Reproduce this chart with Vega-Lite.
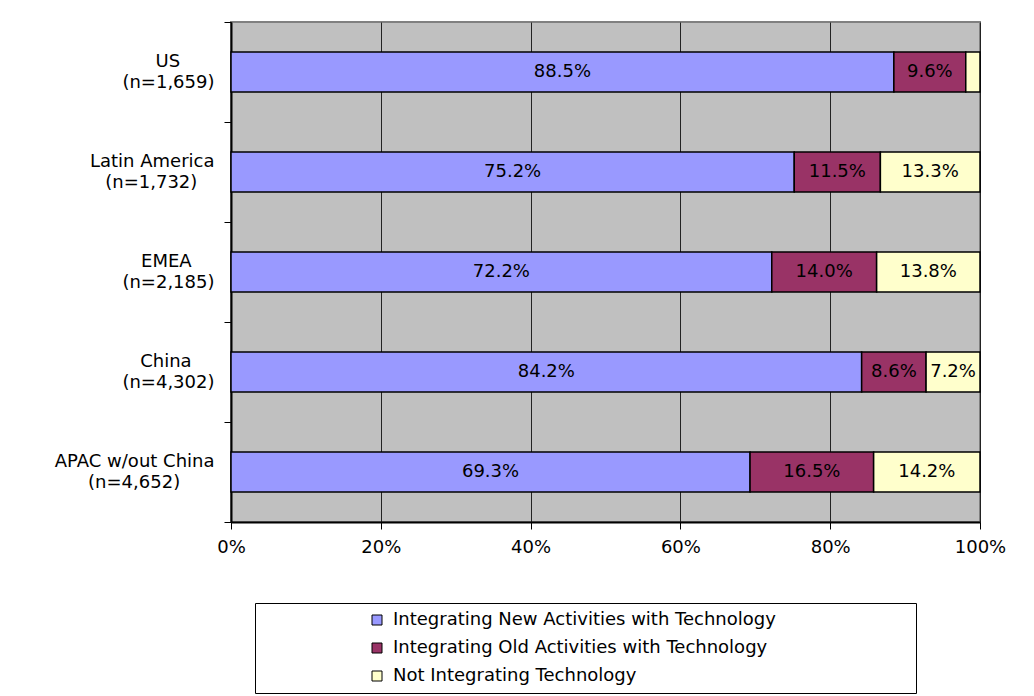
{
  "$schema": "https://vega.github.io/schema/vega-lite/v6.json",
  "width": 749,
  "height": 500,
  "autosize": {"type": "none"},
  "padding": {"left": 231, "top": 22, "right": 54, "bottom": 174},
  "background": "#ffffff",
  "config": {
    "font": "DejaVu Sans",
    "view": {"fill": "#C0C0C0", "stroke": "#808080", "strokeWidth": 2}
  },
  "data": {
    "values": [
      {"region": "US (n=1,659)", "category": "Integrating New Activities with Technology", "value": 0.885},
      {"region": "US (n=1,659)", "category": "Integrating Old Activities with Technology", "value": 0.096},
      {"region": "US (n=1,659)", "category": "Not Integrating Technology", "value": 0.019},
      {"region": "Latin America (n=1,732)", "category": "Integrating New Activities with Technology", "value": 0.752},
      {"region": "Latin America (n=1,732)", "category": "Integrating Old Activities with Technology", "value": 0.115},
      {"region": "Latin America (n=1,732)", "category": "Not Integrating Technology", "value": 0.133},
      {"region": "EMEA (n=2,185)", "category": "Integrating New Activities with Technology", "value": 0.722},
      {"region": "EMEA (n=2,185)", "category": "Integrating Old Activities with Technology", "value": 0.140},
      {"region": "EMEA (n=2,185)", "category": "Not Integrating Technology", "value": 0.138},
      {"region": "China (n=4,302)", "category": "Integrating New Activities with Technology", "value": 0.842},
      {"region": "China (n=4,302)", "category": "Integrating Old Activities with Technology", "value": 0.086},
      {"region": "China (n=4,302)", "category": "Not Integrating Technology", "value": 0.072},
      {"region": "APAC w/out China (n=4,652)", "category": "Integrating New Activities with Technology", "value": 0.693},
      {"region": "APAC w/out China (n=4,652)", "category": "Integrating Old Activities with Technology", "value": 0.165},
      {"region": "APAC w/out China (n=4,652)", "category": "Not Integrating Technology", "value": 0.142}
    ]
  },
  "resolve": {"axis": {"y": "independent"}},
  "encoding": {
    "x": {
      "field": "value",
      "type": "quantitative",
      "stack": "zero",
      "scale": {"domain": [0, 1], "nice": false},
      "axis": {
        "title": null,
        "format": "%",
        "values": [0, 0.2, 0.4, 0.6, 0.8, 1],
        "labelFlush": false,
        "labelFontSize": 18,
        "labelColor": "#000000",
        "labelPadding": 9,
        "tickSize": 7,
        "tickColor": "#000000",
        "domainColor": "#000000",
        "domainWidth": 2,
        "grid": true,
        "gridColor": "#222222",
        "gridWidth": 1
      }
    }
  },
  "layer": [
    {
      "mark": {"type": "bar", "stroke": "#000000", "strokeWidth": 1.5},
      "encoding": {
        "y": {
          "field": "region",
          "type": "nominal",
          "sort": null,
          "scale": {"paddingInner": 0.6, "paddingOuter": 0.3},
          "axis": {
            "orient": "left",
            "title": null,
            "labels": false,
            "bandPosition": 0,
            "tickOffset": -30,
            "tickSize": 7,
            "tickColor": "#000000",
            "domainColor": "#000000",
            "domainWidth": 2,
            "grid": false
          }
        },
        "color": {
          "field": "category",
          "type": "nominal",
          "scale": {
            "domain": ["Integrating New Activities with Technology", "Integrating Old Activities with Technology", "Not Integrating Technology"],
            "range": ["#9999FF", "#993366", "#FFFFCC"]
          },
          "legend": {
            "orient": "none",
            "legendX": 24,
            "legendY": 581,
            "title": null,
            "direction": "vertical",
            "symbolType": "square",
            "symbolSize": 100,
            "symbolStrokeColor": "#000000",
            "symbolStrokeWidth": 1,
            "symbolOffset": 105,
            "labelOffset": 7,
            "labelFontSize": 18,
            "labelColor": "#000000",
            "labelLimit": 800,
            "labelExpr": "datum.label + '\u00a0\u00a0\u00a0\u00a0\u00a0\u00a0\u00a0\u00a0\u00a0\u00a0\u00a0\u00a0\u00a0\u00a0\u00a0\u00a0\u00a0\u00a0\u00a0\u00a0\u00a0\u00a0\u00a0\u200b'",
            "rowPadding": 10,
            "padding": 8,
            "strokeColor": "#000000",
            "fillColor": "#ffffff"
          }
        }
      }
    },
    {
      "mark": {"type": "point", "opacity": 0},
      "encoding": {
        "x": {"datum": 0, "type": "quantitative"},
        "y": {
          "field": "region",
          "type": "nominal",
          "sort": null,
          "axis": {
            "orient": "left",
            "title": null,
            "labels": false,
            "domain": false,
            "values": ["APAC w/out China (n=4,652)"],
            "bandPosition": 1,
            "tickOffset": 30,
            "tickSize": 7,
            "tickColor": "#000000",
            "grid": false
          }
        }
      }
    },
    {
      "mark": {"type": "text", "fontSize": 18, "color": "#000000", "baseline": "middle", "align": "center"},
      "encoding": {
        "y": {
          "field": "region",
          "type": "nominal",
          "sort": null,
          "axis": {
            "orient": "left",
            "title": null,
            "labelExpr": "datum.label == 'US (n=1,659)' ? ['US\u00a0\u00a0\u00a0\u00a0\u00a0\u00a0\u200b', '(n=1,659)'] : datum.label == 'Latin America (n=1,732)' ? ['Latin America', '(n=1,732)\u00a0\u00a0\u00a0\u200b'] : datum.label == 'EMEA (n=2,185)' ? ['EMEA\u00a0\u00a0\u00a0\u00a0\u200b', '(n=2,185)'] : datum.label == 'China (n=4,302)' ? ['China\u00a0\u00a0\u00a0\u00a0\u200b', '(n=4,302)'] : ['APAC w/out China', '(n=4,652)\u00a0\u00a0\u00a0\u00a0\u00a0\u00a0\u200b']",
            "labelFontSize": 18,
            "labelColor": "#000000",
            "labelLineHeight": 21,
            "labelAlign": "right",
            "labelPadding": 17,
            "labelOffset": -10,
            "ticks": false,
            "tickSize": 0,
            "domain": false,
            "grid": false,
            "labelLimit": 300
          }
        },
        "x": {"field": "value", "type": "quantitative", "stack": "zero", "bandPosition": 0.5},
        "order": {"field": "category", "type": "nominal", "sort": "ascending"},
        "text": {
          "condition": {"test": "datum.value < 0.03", "value": ""},
          "field": "value",
          "type": "quantitative",
          "format": ".1%"
        },
        "detail": {"field": "category"}
      }
    }
  ]
}
